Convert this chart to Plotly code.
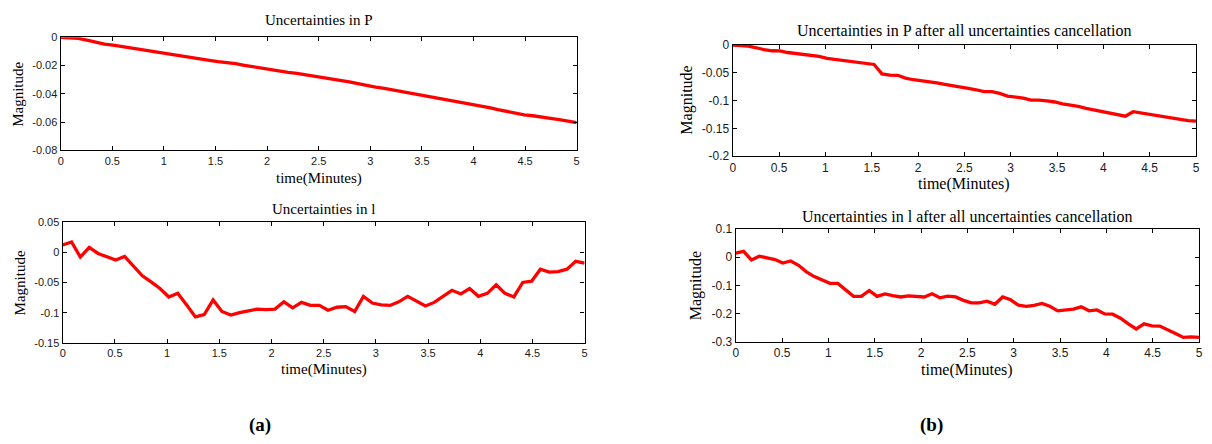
import plotly.graph_objects as go

# ---- data -------------------------------------------------------------
time_min = [0.000, 0.085, 0.169, 0.254, 0.339, 0.424, 0.508, 0.593, 0.678, 0.763,
            0.847, 0.932, 1.017, 1.102, 1.186, 1.271, 1.356, 1.441, 1.525, 1.610,
            1.695, 1.780, 1.864, 1.949, 2.034, 2.119, 2.203, 2.288, 2.373, 2.458,
            2.542, 2.627, 2.712, 2.797, 2.881, 2.966, 3.051, 3.136, 3.220, 3.305,
            3.390, 3.475, 3.559, 3.644, 3.729, 3.814, 3.898, 3.983, 4.068, 4.153,
            4.237, 4.322, 4.407, 4.492, 4.576, 4.661, 4.746, 4.831, 4.915, 5.000]

p_uncert = [0.0, -0.0002, -0.0008, -0.002, -0.0035, -0.0048, -0.0055, -0.0065, -0.0078, -0.0087,
            -0.0095, -0.0107, -0.0116, -0.0123, -0.0133, -0.0145, -0.0153, -0.0163, -0.0172, -0.0178,
            -0.0187, -0.0198, -0.0209, -0.0218, -0.0227, -0.0238, -0.0248, -0.0256, -0.0265, -0.0276,
            -0.0285, -0.0293, -0.0303, -0.0315, -0.0328, -0.0343, -0.0352, -0.0362, -0.0373, -0.0385,
            -0.0396, -0.0408, -0.0417, -0.0428, -0.044, -0.0455, -0.0467, -0.0476, -0.0485, -0.0498,
            -0.0512, -0.0525, -0.0537, -0.0548, -0.0555, -0.0562, -0.0573, -0.0583, -0.0593, -0.0603]

l_uncert = [0.012, 0.017, -0.008, 0.008, -0.002, -0.007, -0.013, -0.007, -0.023, -0.039,
            -0.049, -0.060, -0.074, -0.068, -0.087, -0.107, -0.103, -0.079, -0.098, -0.104,
            -0.100, -0.097, -0.094, -0.095, -0.094, -0.082, -0.092, -0.083, -0.088, -0.088,
            -0.096, -0.091, -0.090, -0.098, -0.073, -0.084, -0.087, -0.088, -0.082, -0.073,
            -0.081, -0.089, -0.083, -0.073, -0.063, -0.069, -0.060, -0.073, -0.068, -0.054,
            -0.068, -0.074, -0.050, -0.048, -0.028, -0.033, -0.032, -0.028, -0.015, -0.018]

p_after = [0.0, -0.001, -0.002, -0.005, -0.0085, -0.0104, -0.0106, -0.0135, -0.0155, -0.017,
           -0.0188, -0.0205, -0.024, -0.026, -0.028, -0.0295, -0.0315, -0.0335, -0.035, -0.052,
           -0.0543, -0.0545, -0.0595, -0.0625, -0.064, -0.066, -0.068, -0.071, -0.073, -0.0755,
           -0.078, -0.0805, -0.084, -0.084, -0.087, -0.092, -0.094, -0.0955, -0.099, -0.099,
           -0.1005, -0.1025, -0.106, -0.108, -0.1105, -0.114, -0.1165, -0.1205, -0.1225, -0.1255,
           -0.128, -0.120, -0.1225, -0.125, -0.1265, -0.129, -0.131, -0.1345, -0.136, -0.137]

l_after = [0.014, 0.020, -0.010, 0.003, -0.003, -0.009, -0.021, -0.014, -0.029, -0.052,
           -0.069, -0.080, -0.093, -0.093, -0.116, -0.139, -0.139, -0.118, -0.139, -0.130,
           -0.136, -0.141, -0.137, -0.139, -0.141, -0.130, -0.144, -0.138, -0.141, -0.153,
           -0.162, -0.162, -0.156, -0.167, -0.141, -0.151, -0.170, -0.174, -0.171, -0.164,
           -0.174, -0.190, -0.187, -0.184, -0.176, -0.190, -0.187, -0.201, -0.202, -0.216,
           -0.236, -0.254, -0.236, -0.243, -0.244, -0.256, -0.270, -0.284, -0.282, -0.284]

x_ticks = [0, 0.5, 1, 1.5, 2, 2.5, 3, 3.5, 4, 4.5, 5]
x_ticktext = ["0", "0.5", "1", "1.5", "2", "2.5", "3", "3.5", "4", "4.5", "5"]

y1_ticks = [0, -0.02, -0.04, -0.06, -0.08]
y1_text = ["0", "-0.02", "-0.04", "-0.06", "-0.08"]
y2_ticks = [0.05, 0, -0.05, -0.1, -0.15]
y2_text = ["0.05", "0", "-0.05", "-0.1", "-0.15"]
y3_ticks = [0, -0.05, -0.1, -0.15, -0.2]
y3_text = ["0", "-0.05", "-0.1", "-0.15", "-0.2"]
y4_ticks = [0.1, 0, -0.1, -0.2, -0.3]
y4_text = ["0.1", "0", "-0.1", "-0.2", "-0.3"]

titles = ["Uncertainties in P",
          "Uncertainties in l",
          "Uncertainties in P after all uncertainties cancellation",
          "Uncertainties in l after all uncertainties cancellation"]
x_title = "time(Minutes)"
y_title = "Magnitude"
panel_labels = ["(a)", "(b)"]

# ---- figure ------------------------------------------------------------
# the page body has an 8px margin, so the figure is sized to fit the 1212x444 window
OFF = 8
W, H = 1212 - 2 * OFF, 444 - 2 * OFF
RED = "#ff0000"
SERIF = "Liberation Serif, Times New Roman, serif"
SANS = "Liberation Sans, Arial, sans-serif"

def clip(v):
    return max(0.0, min(1.0, v))

def fx(px):
    return clip((px - OFF) / W)

def fy(py):
    return clip(1 - (py - OFF) / H)

# per panel: axis box (left, right, top, bottom), title y, x-title y, y-title x, font sizes
panels = [
    dict(box=(58, 577, 31, 148), ty=13, xty=177, ytx=15, tick=11, txt=15),
    dict(box=(60, 585, 222, 347), ty=209, xty=375, ytx=18, tick=11, txt=15),
    dict(box=(734, 1200, 39, 154), ty=24, xty=183, ytx=688, tick=12, txt=16),
    dict(box=(737, 1203, 229, 346), ty=216, xty=375, ytx=697, tick=12, txt=16),
]
series = [p_uncert, l_uncert, p_after, l_after]
yranges = [[-0.08, 0], [-0.15, 0.05], [-0.2, 0], [-0.3, 0.1]]
yticks = [(y1_ticks, y1_text), (y2_ticks, y2_text), (y3_ticks, y3_text), (y4_ticks, y4_text)]

fig = go.Figure()
layout = dict(width=W, height=H, margin=dict(l=0, r=0, t=0, b=0),
              paper_bgcolor="white", plot_bgcolor="white", showlegend=False)

annotations = []
for i, (pn, ys, yr, (tv, tt), ttl) in enumerate(zip(panels, series, yranges, yticks, titles)):
    n = "" if i == 0 else str(i + 1)
    l, r, t, b = pn["box"]
    fig.add_trace(go.Scatter(x=time_min, y=ys, mode="lines",
                             line=dict(color=RED, width=3.3),
                             xaxis="x" + n, yaxis="y" + n, hoverinfo="skip"))
    common = dict(showline=True, linecolor="black", linewidth=1.3, mirror="ticks",
                  ticks="inside", ticklen=4, tickwidth=1, tickcolor="black",
                  showgrid=False, zeroline=False,
                  tickfont=dict(family=SANS, size=pn["tick"], color="#1a1a1a"))
    layout["xaxis" + n] = dict(domain=[fx(l), fx(r)], range=[0, 5], anchor="y" + n,
                               tickvals=x_ticks, ticktext=x_ticktext, **common)
    layout["yaxis" + n] = dict(domain=[fy(b), fy(t)], range=yr, anchor="x" + n,
                               tickvals=tv, ticktext=tt, **common)
    cx = (l + r) / 2
    tf = dict(family=SERIF, size=pn["txt"], color="black")
    annotations.append(dict(text=ttl, x=fx(cx), y=fy(pn["ty"]), xref="paper", yref="paper",
                            xanchor="center", yanchor="middle", showarrow=False, font=tf))
    annotations.append(dict(text=x_title, x=fx(cx), y=fy(pn["xty"]), xref="paper", yref="paper",
                            xanchor="center", yanchor="middle", showarrow=False, font=tf))
    annotations.append(dict(text=y_title, x=fx(pn["ytx"]), y=fy((t + b) / 2), xref="paper",
                            yref="paper", xanchor="center", yanchor="middle", showarrow=False,
                            textangle=-90, font=tf))

for lab, px in zip(panel_labels, [258, 934]):
    annotations.append(dict(text="<b>" + lab + "</b>", x=fx(px), y=fy(432), xref="paper",
                            yref="paper", xanchor="center", yanchor="middle", showarrow=False,
                            font=dict(family=SERIF, size=19, color="black")))
layout["annotations"] = annotations
fig.update_layout(**layout)
fig.write_html("out.html")
